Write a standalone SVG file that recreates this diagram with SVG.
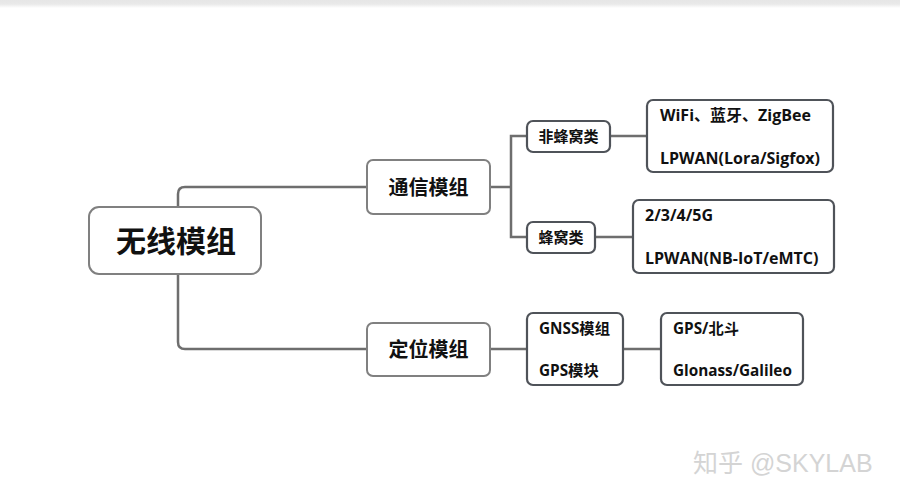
<svg xmlns="http://www.w3.org/2000/svg" width="900" height="500" viewBox="0 0 900 500">
<defs>
<linearGradient id="topbar" x1="0" y1="0" x2="0" y2="1">
<stop offset="0" stop-color="#e6e6e6"/>
<stop offset="0.5" stop-color="#e9e9e9"/>
<stop offset="1" stop-color="#ffffff"/>
</linearGradient>
</defs>
<style>
.bg{fill:#ffffff}
.conn path{fill:none;stroke:#6e6e6e;stroke-width:2.5}
.main{fill:#ffffff;stroke:#808080;stroke-width:2}
.sub{fill:#ffffff;stroke:#4f5359;stroke-width:2.2}
text{font-family:"Open Sans","Noto Sans CJK SC",sans-serif;font-weight:bold;fill:#111111}
.t28{font-size:30px}
.t18{font-size:20px}
.t14{font-size:15px}
.t16{font-size:16px}
.t15{font-size:15.3px}
.wm{font-family:"Liberation Sans","Noto Sans CJK SC",sans-serif;font-weight:normal;font-size:25px;fill:#d4d4d4}
</style>
<rect class="bg" x="0" y="0" width="900" height="500"/>
<rect x="0" y="0" width="900" height="8" fill="url(#topbar)"/>
<g id="connectors" class="conn">
<path d="M178,207 V194 Q178,187 185,187 H368"/>
<path d="M178,275 V342 Q178,349 185,349 H368"/>
<path d="M490,187 H511"/>
<path d="M527,136 H511 V237 H527"/>
<path d="M610,136 H647"/>
<path d="M595,237 H633"/>
<path d="M490,349 H527"/>
<path d="M623,349 H661"/>
</g>
<g id="n-root">
<rect class="main" x="89" y="207" width="172" height="67" rx="10"/>
<text class="t28" x="176" y="252" text-anchor="middle">无线模组</text>
</g>
<g id="n-comm">
<rect class="main" x="367" y="160" width="123" height="54" rx="6"/>
<text class="t18" x="428.5" y="195" text-anchor="middle">通信模组</text>
</g>
<g id="n-pos">
<rect class="main" x="367" y="323" width="123" height="53" rx="6"/>
<text class="t18" x="428.5" y="357" text-anchor="middle">定位模组</text>
</g>
<g id="n-noncell">
<rect class="sub" x="527" y="121" width="83" height="31" rx="6"/>
<text class="t14" x="568.5" y="142" text-anchor="middle">非蜂窝类</text>
</g>
<g id="n-cell">
<rect class="sub" x="527" y="222" width="68" height="31" rx="6"/>
<text class="t14" x="561" y="243" text-anchor="middle">蜂窝类</text>
</g>
<g id="n-noncell-list">
<rect class="sub" x="647" y="100" width="186" height="72" rx="6"/>
<text class="t16" x="660" y="121">WiFi、蓝牙、ZigBee</text>
<text class="t16" x="660" y="164">LPWAN(Lora/Sigfox)</text>
</g>
<g id="n-cell-list">
<rect class="sub" x="633" y="200" width="201" height="73" rx="6"/>
<text class="t16" x="645" y="221">2/3/4/5G</text>
<text class="t16" x="645" y="264">LPWAN(NB-IoT/eMTC)</text>
</g>
<g id="n-gnss">
<rect class="sub" x="527" y="313" width="96" height="72" rx="6"/>
<text class="t15" x="539" y="334">GNSS模组</text>
<text class="t15" x="539" y="376">GPS模块</text>
</g>
<g id="n-gps-list">
<rect class="sub" x="661" y="313" width="142" height="72" rx="6"/>
<text class="t15" x="673" y="334">GPS/北斗</text>
<text class="t15" x="673" y="376">Glonass/Galileo</text>
</g>
<text class="wm" x="693" y="472">知乎 @SKYLAB</text>
</svg>
